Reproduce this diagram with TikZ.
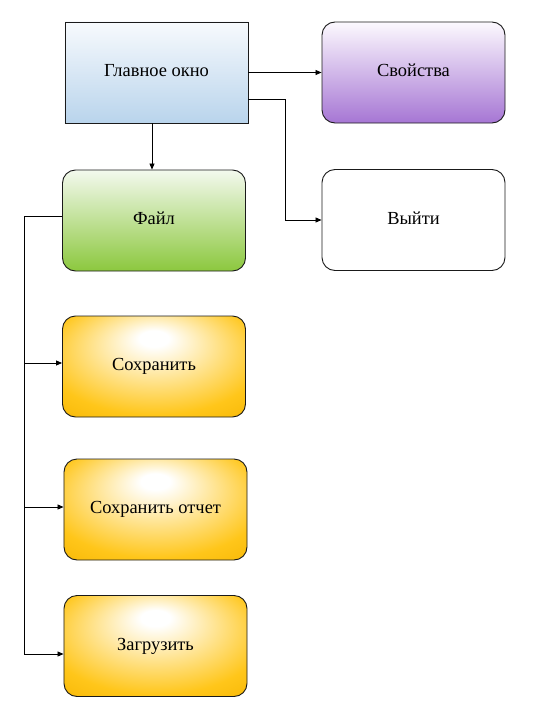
\documentclass[tikz,border=0pt]{standalone}
\usepackage{fontspec}
\setmainfont{Liberation Serif}
\newfontfamily\boxfont{Liberation Serif}
\usetikzlibrary{arrows.meta}
\definecolor{gold2}{HTML}{FFC61A}
\definecolor{gold3}{HTML}{F5B400}
\definecolor{blueA}{HTML}{F7FAFD}
\definecolor{blueB}{HTML}{B9D4EC}
\definecolor{purA}{HTML}{FCF9FE}
\definecolor{purB}{HTML}{A676D4}
\definecolor{grnA}{HTML}{F3F9EE}
\definecolor{grnB}{HTML}{8CC83E}
\definecolor{edge}{HTML}{1A1A1A}
\pgfdeclareradialshading{goldglow}{\pgfpoint{0bp}{15bp}}{%
  color(0bp)=(white);
  color(4bp)=(white);
  color(30bp)=(gold2);
  color(42bp)=(gold3);
  color(50bp)=(gold3)}
\newcommand{\up}[1]{\raisebox{4bp}{#1}}
\tikzset{
  box/.style={draw=edge, line width=0.9bp, minimum width=183bp, minimum height=101bp,
    inner sep=0pt, font=\boxfont\fontsize{18.5}{22}\selectfont, text=black},
  rbox/.style={box, rounded corners=13bp},
  link/.style={draw=black, line width=0.8bp, -{Triangle[length=6bp,width=5bp]}},
  plain/.style={draw=black, line width=0.8bp}
}
\begin{document}
\begin{tikzpicture}[x=1bp,y=-1bp]
\useasboundingbox (0,0) rectangle (544,727);
\node[box, top color=blueA, bottom color=blueB] (main) at (156.5,72.5) {\up{Главное окно}};
\node[rbox, top color=purA, bottom color=purB] (props) at (413.5,72.5) {\up{Свойства}};
\node[rbox, fill=white] (exit) at (413.5,220) {\up{Выйти}};
\node[rbox, top color=grnA, bottom color=grnB] (file) at (154,220.5) {\up{Файл}};
\node[rbox, shading=goldglow] (save) at (154,366.5) {\up{Сохранить}};
\node[rbox, shading=goldglow] (report) at (155.5,509.5) {\up{Сохранить отчет}};
\node[rbox, shading=goldglow] (load) at (155.5,646) {\up{Загрузить}};
\coordinate (mainlow) at (248,99);
\coordinate (bend1) at (285,99);
\coordinate (fileout) at (62,216);
\coordinate (trunktop) at (24,216);
\coordinate (t1) at (24,363);
\coordinate (t2) at (24,507);
\coordinate (t3) at (24,654);
\coordinate (drop) at (152,0);
\draw[link] (main.east) -- (props.west);
\draw[link] (mainlow) -- (bend1) |- (exit.west);
\draw[link] (main.south -| drop) -- (file.north -| drop);
\draw[plain] (fileout) -- (trunktop) -- (t3);
\draw[link] (t1) -- (save.west |- t1);
\draw[link] (t2) -- (report.west |- t2);
\draw[link] (t3) -- (load.west |- t3);
\end{tikzpicture}
\end{document}
